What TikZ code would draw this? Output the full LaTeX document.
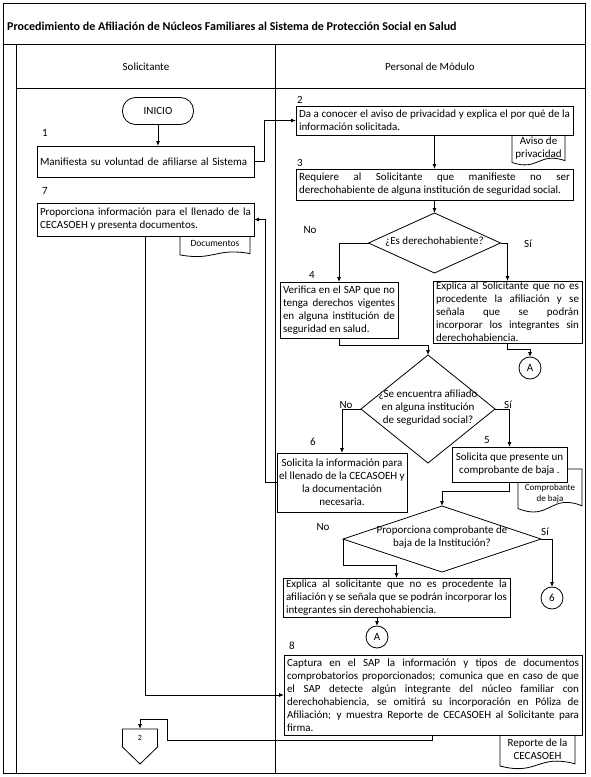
\documentclass[tikz,border=0pt]{standalone}
\usepackage{fontspec}
\setmainfont{Carlito}
\usetikzlibrary{arrows.meta,shapes.geometric,calc}
\newcommand\bxfont{\fontsize{11}{13}\selectfont\hyphenpenalty=10000\exhyphenpenalty=10000\tolerance=10000\hbadness=10000}
\newcommand\smfont{\fontsize{9.5}{12.5}\selectfont}
\newcommand\xsfont{\fontsize{9}{11.5}\selectfont}
\newcommand\dtx[1]{\raisebox{-2.5pt}{\smash{\makebox[0pt]{\begin{tabular}{@{}c@{}}#1\end{tabular}}}}}
\newcommand\docshp[8]{%
  \pgfmathsetmacro\dxr{#2+#4}%
  \pgfmathsetmacro\dxm{#2+0.5*#4}%
  \pgfmathsetmacro\dyr{#3+0.80*#5}%
  \pgfmathsetmacro\dyl{#3+0.86*#5}%
  \pgfmathsetmacro\dcu{#3+0.52*#5}%
  \pgfmathsetmacro\dcd{#3+1.14*#5}%
  \pgfmathsetmacro\dyt{#3+#6}%
  \draw[ln,fill=white] (#2,#3) -- (\dxr,#3) -- (\dxr,\dyr) .. controls (\dxm,\dcu) and (\dxm,\dcd) .. (#2,\dyl) -- cycle;
  \node[font=#7,align=center,inner sep=0pt] (#1) at (\dxm,\dyt) {#8};
}
\tikzset{
  ln/.style={line width=0.8pt},
  arr/.style={line width=0.8pt,-{Latex[length=5pt,width=4pt]}},
  bx/.style={draw,fill=white,line width=0.8pt,anchor=north west,inner xsep=3pt,inner ysep=1pt,outer sep=0pt,font=\bxfont,align=justify},
  bxc/.style={draw,fill=white,line width=0.8pt,anchor=north west,inner xsep=2pt,inner ysep=1pt,outer sep=0pt,font=\bxfont,align=center},
  dia/.style={draw,fill=white,shape=diamond,line width=0.8pt,inner sep=0pt,outer sep=0pt,font=\bxfont},
  circ/.style={draw,fill=white,circle,line width=0.8pt,minimum size=22pt,inner sep=0pt,outer sep=0pt,font=\bxfont},
  lbl/.style={font=\bxfont,inner sep=0pt},
}
\begin{document}
\begin{tikzpicture}[x=1pt,y=-1pt]
\useasboundingbox (0,0) rectangle (590,777);
% frame
\draw[ln] (3,3) rectangle (585,773);
\draw[ln] (3,44) -- (585,44);
\draw[ln] (16,44) -- (16,773);
\draw[ln] (16,88) -- (585,88);
\draw[ln] (275,44) -- (275,773);
\node[anchor=west,inner sep=0pt,font=\bfseries\fontsize{12}{14}\selectfont] (title) at (7,26) {Procedimiento de Afiliación de Núcleos Familiares al Sistema de Protección Social en Salud};
\node[lbl] (h1) at (146,67) {Solicitante};
\node[lbl] (h2) at (430,67) {Personal de Módulo};

% documents
\docshp{docA}{180}{236}{70}{22}{7}{\smfont}{Documentos}
\docshp{docB}{512}{135}{53}{32}{13}{\bxfont}{Aviso de\\privacidad}
\docshp{docC}{518}{469}{64}{46}{24.5}{\xsfont}{Comprobante\\de baja}
\docshp{docD}{500}{735}{75}{36}{14}{\bxfont}{Reporte de la\\CECASOEH}

% nodes
\node[draw,fill=white,line width=0.8pt,rounded corners=13pt,minimum width=71pt,minimum height=27pt,font=\bxfont] (ini) at (158,111) {INICIO};
\node[bx,text width=211pt,minimum height=31pt,align=left] (b1) at (37,146) {Manifiesta su voluntad de afiliarse al Sistema};
\node[bx,text width=211pt,minimum height=33pt] (b7) at (37,203) {Proporciona información para el llenado de la\linebreak CECASOEH y presenta documentos.};
\node[bx,text width=271pt,minimum height=29pt] (b2) at (296,106) {Da a conocer el aviso de privacidad y explica el por qué de la\linebreak información solicitada.};
\node[bx,text width=271pt,minimum height=31pt] (b3) at (296,169) {Requiere al Solicitante que manifieste no ser\linebreak derechohabiente de alguna institución de seguridad social.};
\node[dia,minimum width=132pt,minimum height=60pt] (d1) at (434.5,243) {\dtx{¿Es derechohabiente?}};
\node[bx,text width=112pt,minimum height=56pt] (b4) at (280,282) {Verifica en el SAP que no\linebreak tenga derechos vigentes\linebreak en alguna institución de\linebreak seguridad en salud.};
\node[bx,text width=143pt,minimum height=62pt] (e1) at (433,281) {Explica al Solicitante que no es\linebreak procedente la afiliación y se\linebreak señala que se podrán\linebreak incorporar los integrantes sin\linebreak derechohabiencia.};
\node[circ] (a1) at (530,368) {A};
\node[dia,minimum width=134pt,minimum height=108pt] (d2) at (428,409) {\dtx{¿Se encuentra afiliado\\en alguna institución\\de seguridad social?}};
\node[bxc,minimum width=130pt,minimum height=59pt] (b6) at (277,453) {Solicita la información para\\el llenado de la CECASOEH y\\la documentación\\necesaria.};
\node[bxc,minimum width=115pt,minimum height=35pt] (b5) at (452,447) {Solicita que presente un\\comprobante de baja .};
\node[dia,minimum width=198pt,minimum height=66pt] (d3) at (442,539) {\dtx{Proporciona comprobante de\\baja de la Institución?}};
\node[bx,text width=221pt,minimum height=39pt] (e2) at (283,578) {Explica al solicitante que no es procedente la\linebreak afiliación y se señala que se podrán incorporar los\linebreak integrantes sin derechohabiencia.};
\node[circ] (c6) at (552,598) {6};
\node[circ] (a2) at (377,637) {A};
\node[bx,text width=292pt,minimum height=80pt] (b8) at (284,655) {Captura en el SAP la información y tipos de documentos\linebreak comprobatorios proporcionados; comunica que en caso de que\linebreak el SAP detecte algún integrante del núcleo familiar con\linebreak derechohabiencia, se omitirá su incorporación en Póliza de\linebreak Afiliación; y muestra Reporte de CECASOEH al Solicitante para\linebreak firma.};
% off-page connector
\draw[ln,fill=white] (122.5,729) -- (157.5,729) -- (157.5,747) -- (140,764) -- (122.5,747) -- cycle;
\node[minimum width=35pt,minimum height=18pt,inner sep=0pt,anchor=north,font=\fontsize{8}{10}\selectfont] (off) at (140,729) {2};

% step labels
\node[lbl] (n1) at (45,133) {1};
\node[lbl] (n7) at (45,191) {7};
\node[lbl] (n2) at (300,100) {2};
\node[lbl] (n3) at (300,163) {3};
\node[lbl] (n4) at (312,275) {4};
\node[lbl] (n6) at (313,442) {6};
\node[lbl] (n5) at (487,440) {5};
\node[lbl] (n8) at (292,646) {8};
\node[lbl] (no1) at (310,230) {No};
\node[lbl] (si1) at (528,244) {Sí};
\node[lbl] (no2) at (346,405) {No};
\node[lbl] (si2) at (508,405) {Sí};
\node[lbl] (no3) at (323,527) {No};
\node[lbl] (si3) at (545,532) {Sí};

% connectors
\draw[arr] (ini.south) -- (ini.south |- b1.north);
\draw[arr] (b1.east) -- ++(10,0) |- (b2.west);
\draw[arr] (b2.south) -- (b3.north);
\draw[arr] (b3.south) -- (d1.north);
\draw[arr] (d1.west) -| (b4.north);
\draw[arr] (d1.east) -| (e1.north);
\draw[arr] (e1.south) -- ++(0,6) -| (a1.north);
\draw[arr] (b4.south) -- ++(0,7) -| (d2.north);
\draw[arr] (d2.west) -| (b6.north);
\draw[arr] (d2.east) -| (b5.north);
\draw[arr] (b6.west) -- ++(-12,0) |- (b7.east);
\draw[arr] (b5.south) -- ++(0,9) -| (d3.north);
\draw[arr] (d3.west) -- ++(0,26) -| (e2.north);
\draw[arr] (d3.east) -| (c6.north);
\draw[arr] (a2.north |- e2.south) -- (a2.north);
\draw[arr] ($(b7.south west)+(108,0)$) |- (b8.west);
\draw[arr] ($(b8.south west)+(148,0)$) -- ++(0,5) -- ++(-265,0) -- ++(0,-21) -| (off.north);
\end{tikzpicture}
\end{document}
